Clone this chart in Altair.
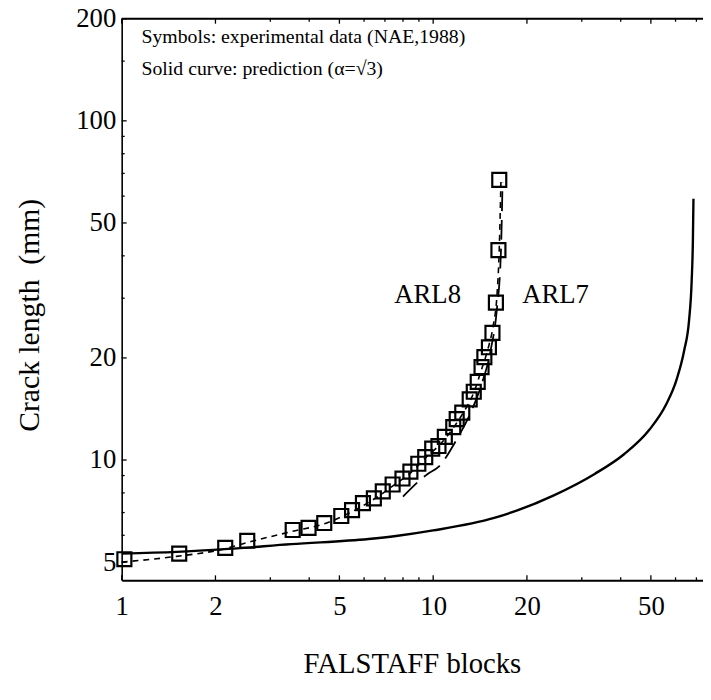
import altair as alt
import pandas as pd

# ---------------- data ----------------
exp_blocks = [1.02, 1.53, 2.15, 2.53, 3.54, 3.98, 4.47, 5.07, 5.49, 5.95, 6.45, 6.89,
              7.41, 7.97, 8.45, 8.96, 9.43, 9.93, 10.4, 10.9, 11.6, 11.9, 12.4, 13.1,
              13.5, 13.9, 14.3, 14.6, 15.1, 15.5, 15.9, 16.2, 16.3]
exp_crack = [5.1, 5.3, 5.51, 5.78, 6.22, 6.31, 6.52, 6.84, 7.12, 7.46, 7.71, 8.08,
             8.47, 8.82, 9.24, 9.75, 10.2, 10.8, 11.0, 11.7, 12.5, 13.2, 13.8, 15.1,
             15.9, 17.0, 18.8, 20.1, 21.5, 23.7, 29.1, 41.6, 67.0]

arl8_blocks = [1.0, 1.5, 2.1, 2.6, 3.5, 4.5, 5.5, 6.5, 7.5, 8.5, 9.5, 10.5, 11.5,
               12.5, 13.5, 14.3, 15.0, 15.6, 16.0, 16.3, 16.5]
arl8_crack = [5.0, 5.2, 5.45, 5.75, 6.15, 6.5, 7.05, 7.7, 8.45, 9.2, 10.2, 11.1, 12.3,
              13.8, 15.8, 18.5, 21.3, 25.0, 30.0, 42.0, 66.0]

arl7_blocks = [8.0, 9.6, 10.4, 11.9, 13.1, 14.3, 15.3, 16.0, 16.5, 16.7]
arl7_crack = [7.8, 9.1, 9.55, 11.5, 13.6, 16.7, 21.1, 27.6, 41.0, 66.0]

pred_blocks = [1.0, 1.5, 2.2, 3.5, 6.2, 7.6, 10.0, 15.7, 24.4, 33.0, 41.0, 49.5, 56.0,
               60.5, 64.0, 66.3, 67.6, 68.2, 68.5]
pred_crack = [5.3, 5.36, 5.47, 5.65, 5.85, 5.97, 6.2, 6.75, 7.87, 9.1, 10.4, 12.3, 14.6,
              17.3, 21.1, 25.8, 33.8, 44.2, 58.9]

x_labels = [1, 2, 5, 10, 20, 50]
y_labels = [5, 10, 20, 50, 100, 200]
x_minor = [3, 4, 6, 7, 8, 9, 30, 40, 60, 70]
y_minor = [6, 7, 8, 9, 30, 40, 60, 70, 80, 90, 150]

note_lines = ["Symbols: experimental data (NAE,1988)", "Solid curve: prediction (\u03b1=\u221a3)"]
curve_names = ["ARL8", "ARL7"]
curve_name_x = [9.6, 24.7]
curve_name_y = [30.7, 30.7]

x_title = "FALSTAFF blocks"
y_title = "Crack length\u00a0 (mm)"

# ---------------- chart ----------------
W, H = 588, 568
FONT = "Liberation Serif"
xdom = [1, 73.5]
ydom = [4.42, 200]

xs = alt.Scale(type="log", domain=xdom, nice=False)
ys = alt.Scale(type="log", domain=ydom, nice=False)

x_axis = alt.Axis(values=x_labels, title=None, ticks=False, tickSize=0, grid=False,
                  labelFont=FONT, labelFontSize=27, labelPadding=14, labelColor="black",
                  domainColor="black", domainWidth=2, labelFlush=False)
y_axis = alt.Axis(values=y_labels, title=None, ticks=False, tickSize=0, grid=False,
                  labelFont=FONT, labelFontSize=27, labelPadding=6, labelColor="black",
                  domainColor="black", domainWidth=1.6, labelFlush=False)

pred_df = pd.DataFrame({"blocks": pred_blocks, "crack": pred_crack})
exp_df = pd.DataFrame({"blocks": exp_blocks, "crack": exp_crack})
arl8_df = pd.DataFrame({"blocks": arl8_blocks, "crack": arl8_crack})
arl7_df = pd.DataFrame({"blocks": arl7_blocks, "crack": arl7_crack})

X = alt.X("blocks:Q", scale=xs, axis=x_axis)
Y = alt.Y("crack:Q", scale=ys, axis=y_axis)

pred = alt.Chart(pred_df).mark_line(color="black", strokeWidth=2.4, interpolate="monotone").encode(
    x=X, y=Y, order=alt.Order("blocks:Q"))
arl8 = alt.Chart(arl8_df).mark_line(color="black", strokeWidth=1.6, strokeDash=[6, 5],
                                    interpolate="monotone").encode(x=X, y=Y)
arl7 = alt.Chart(arl7_df).mark_line(color="black", strokeWidth=1.8, strokeDash=[20, 9],
                                    interpolate="monotone").encode(x=X, y=Y)
pts = alt.Chart(exp_df).mark_point(shape="square", size=200, color="black", filled=False,
                                   strokeWidth=2.2, opacity=1).encode(x=X, y=Y)

# inward tick marks
xt_major = pd.DataFrame({"blocks": x_labels})
xt_minor = pd.DataFrame({"blocks": x_minor})
yt_major = pd.DataFrame({"crack": y_labels})
yt_minor = pd.DataFrame({"crack": y_minor})


def xticks(df, L):
    b = alt.Chart(df).mark_rule(color="black", strokeWidth=1.3).encode(
        x=X, y=alt.value(H), y2=alt.value(H - L))
    t = alt.Chart(df).mark_rule(color="black", strokeWidth=1.3).encode(
        x=X, y=alt.value(0), y2=alt.value(L))
    return b + t


def yticks(df, L):
    return alt.Chart(df).mark_rule(color="black", strokeWidth=1.3).encode(
        y=Y, x=alt.value(0), x2=alt.value(L))


top_border = alt.Chart(pd.DataFrame({"a": [0]})).mark_rule(color="black", strokeWidth=2).encode(
    x=alt.value(0), x2=alt.value(W), y=alt.value(0))

note1 = alt.Chart(pd.DataFrame({"t": [note_lines[0]]})).mark_text(
    font=FONT, fontSize=20, align="left", baseline="middle", color="black").encode(
    x=alt.value(20), y=alt.value(19), text="t:N")
note2 = alt.Chart(pd.DataFrame({"t": [note_lines[1]]})).mark_text(
    font=FONT, fontSize=20, align="left", baseline="middle", color="black").encode(
    x=alt.value(20), y=alt.value(51), text="t:N")

names_df = pd.DataFrame({"t": curve_names, "blocks": curve_name_x, "crack": curve_name_y})
names = alt.Chart(names_df).mark_text(font=FONT, fontSize=27, align="center", baseline="middle",
                                      color="black").encode(x=X, y=Y, text="t:N")

xtitle = alt.Chart(pd.DataFrame({"t": [x_title]})).mark_text(
    font=FONT, fontSize=29, align="center", baseline="middle", color="black").encode(
    x=alt.value(W / 2), y=alt.value(H + 85), text="t:N")
ytitle = alt.Chart(pd.DataFrame({"t": [y_title]})).mark_text(
    font=FONT, fontSize=30, align="center", baseline="middle", color="black", angle=270).encode(
    x=alt.value(-93), y=alt.value(300), text="t:N")

chart = alt.layer(
    pred, arl8, arl7, pts,
    xticks(xt_major, 5), xticks(xt_minor, 3), yticks(yt_major, 5), yticks(yt_minor, 3),
    top_border, names, note1, note2, xtitle, ytitle
).properties(
    width=W, height=H,
    autosize=alt.AutoSizeParams(type="none"),
    padding={"left": 115, "top": 7, "right": 0, "bottom": 100},
).configure_view(stroke=None).configure(background="white")

chart.save("out.html", embed_options={"renderer": "svg", "actions": False})
